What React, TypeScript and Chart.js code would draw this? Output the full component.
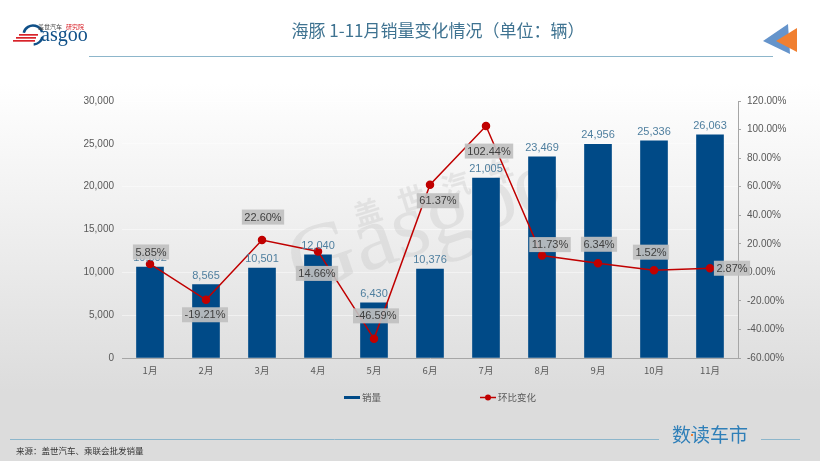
import { useEffect, useRef } from 'react';
import Chart from 'chart.js/auto';

const months = ['1月', '2月', '3月', '4月', '5月', '6月', '7月', '8月', '9月', '10月', '11月'];
const sales = [10602, 8565, 10501, 12040, 6430, 10376, 21005, 23469, 24956, 25336, 26063];
const momChange = [5.85, -19.21, 22.6, 14.66, -46.59, 61.37, 102.44, 11.73, 6.34, 1.52, 2.87];
// where each percent label sits relative to its point, picked by eye
const labelOffsets = [[1, -12], [-1, 15], [1, -23], [-1, 22], [2, -23], [8, 16], [3, 25], [8, -11], [1, -19], [-3, -18], [22, 0]];

const FONT = '"Liberation Sans", Arial, sans-serif';
const CJK = '"Noto Sans CJK SC", sans-serif';

const decorations = {
  id: 'decorations',
  beforeDatasetsDraw(chart: Chart) {
    // watermark behind the bars
    const ctx = chart.ctx;
    ctx.save();
    ctx.fillStyle = 'rgba(190,190,190,0.3)';
    ctx.textAlign = 'center';
    ctx.textBaseline = 'middle';
    ctx.translate(425, 226);
    ctx.rotate(-0.33);
    ctx.font = '92px "Liberation Serif", serif';
    ctx.fillText('Gasgoo', 0, 0);
    ctx.restore();
    ctx.save();
    ctx.fillStyle = 'rgba(190,190,190,0.3)';
    ctx.textAlign = 'center';
    ctx.textBaseline = 'middle';
    ctx.translate(442, 189);
    ctx.rotate(-0.3);
    ctx.font = 'bold 28px ' + CJK;
    (ctx as any).letterSpacing = '18px';
    ctx.fillText('盖世汽车', 0, 0);
    ctx.restore();
  },
  afterDatasetsDraw(chart: Chart) {
    const ctx = chart.ctx;
    ctx.save();
    ctx.textAlign = 'center';
    ctx.textBaseline = 'middle';

    // bar values
    ctx.font = '11px ' + FONT;
    ctx.fillStyle = '#4f7f9f';
    chart.getDatasetMeta(0).data.forEach((bar, i) => {
      ctx.fillText(sales[i].toLocaleString('en-US'), bar.x, bar.y - 9);
    });

    // percent labels on grey boxes
    chart.getDatasetMeta(1).data.forEach((pt, i) => {
      const text = momChange[i].toFixed(2) + '%';
      const [dx, dy] = labelOffsets[i];
      const w = ctx.measureText(text).width + 5;
      ctx.fillStyle = 'rgba(192,192,192,0.92)';
      ctx.fillRect(pt.x + dx - w / 2, pt.y + dy - 7.5, w, 15);
      ctx.fillStyle = '#404040';
      ctx.fillText(text, pt.x + dx, pt.y + dy + 0.5);
    });
    ctx.restore();
  },
  afterDraw(chart: Chart) {
    const ctx = chart.ctx;
    ctx.save();

    // title
    ctx.fillStyle = '#3f7391';
    ctx.textAlign = 'center';
    ctx.textBaseline = 'middle';
    ctx.font = '17px ' + CJK;
    ctx.fillText('海豚 1-11月销量变化情况（单位：辆）', 438, 31);

    // rules
    ctx.strokeStyle = '#8db6cb';
    ctx.lineWidth = 1;
    ctx.beginPath();
    ctx.moveTo(89, 56.5);
    ctx.lineTo(773, 56.5);
    ctx.moveTo(10, 439.5);
    ctx.lineTo(659, 439.5);
    ctx.moveTo(761, 439.5);
    ctx.lineTo(800, 439.5);
    ctx.stroke();

    // corner arrows
    ctx.fillStyle = '#6594cb';
    ctx.beginPath();
    ctx.moveTo(763, 41);
    ctx.lineTo(788, 24);
    ctx.lineTo(790, 54);
    ctx.fill();
    ctx.fillStyle = '#f07f30';
    ctx.beginPath();
    ctx.moveTo(776, 41);
    ctx.lineTo(797, 28);
    ctx.lineTo(797, 52);
    ctx.fill();

    // logo
    ctx.textAlign = 'left';
    ctx.fillStyle = '#0f5088';
    ctx.font = '20px "Liberation Serif", serif';
    ctx.fillText('asgoo', 41, 36);
    ctx.strokeStyle = '#0f5088';
    ctx.lineWidth = 2.5;
    ctx.beginPath();
    ctx.arc(33, 35, 9.5, -2.9, -0.3);
    ctx.stroke();
    ctx.beginPath();
    ctx.arc(33, 35, 9.5, 0.2, 1.5);
    ctx.stroke();
    ctx.fillStyle = '#d8232a';
    [[19, 34, 19], [16, 37, 20], [13, 40, 22]].forEach(([x, y, w]) => ctx.fillRect(x, y, w, 1.7));
    ctx.fillStyle = '#444';
    ctx.font = '6px ' + CJK;
    ctx.fillText('盖世汽车', 38, 27);
    ctx.fillStyle = '#d8232a';
    ctx.fillText('研究院', 66, 27);

    // legend
    ctx.fillStyle = '#004a87';
    ctx.fillRect(344, 396, 16, 3);
    ctx.strokeStyle = '#c00000';
    ctx.lineWidth = 1.5;
    ctx.beginPath();
    ctx.moveTo(480, 397.5);
    ctx.lineTo(496, 397.5);
    ctx.stroke();
    ctx.fillStyle = '#c00000';
    ctx.beginPath();
    ctx.arc(488, 397.5, 3, 0, Math.PI * 2);
    ctx.fill();
    ctx.fillStyle = '#595959';
    ctx.font = '9.5px ' + CJK;
    ctx.fillText('销量', 362, 397);
    ctx.fillText('环比变化', 498, 397);

    // footer
    ctx.fillStyle = '#2f7fb8';
    ctx.font = '19px ' + CJK;
    ctx.fillText('数读车市', 672, 435);
    ctx.fillStyle = '#f07f30';
    ctx.fillRect(691, 434, 2, 2);
    ctx.fillStyle = '#333';
    ctx.font = '8.5px ' + CJK;
    ctx.fillText('来源：盖世汽车、乘联会批发销量', 16, 451);
    ctx.restore();
  },
};

export default function App() {
  const canvasRef = useRef<HTMLCanvasElement | null>(null);

  useEffect(() => {
    document.body.style.margin = '0';
    if (!canvasRef.current) return;

    const chart = new Chart(canvasRef.current, {
      type: 'bar',
      data: {
        labels: months,
        datasets: [
          {
            type: 'bar',
            label: '销量',
            data: sales,
            yAxisID: 'y',
            backgroundColor: '#004a87',
            barThickness: 27,
            order: 1,
          },
          {
            type: 'line',
            label: '环比变化',
            data: momChange,
            yAxisID: 'y1',
            borderColor: '#c00000',
            borderWidth: 1.5,
            backgroundColor: '#c00000',
            pointBackgroundColor: '#c00000',
            pointRadius: 3.5,
            tension: 0,
            order: 0,
          },
        ],
      },
      options: {
        responsive: false,
        animation: false,
        devicePixelRatio: 1,
        layout: { padding: { top: 101, left: 0, right: 0, bottom: 0 } },
        plugins: {
          legend: { display: false },
          tooltip: { enabled: false },
        },
        scales: {
          x: {
            afterFit: (axis: any) => { axis.height = 103; },
            grid: { display: false, drawTicks: false },
            border: { color: '#a6a6a6' },
            ticks: { color: '#595959', font: { family: CJK, size: 9.5 }, padding: 7, maxRotation: 0 },
          },
          y: {
            min: 0,
            max: 30000,
            afterFit: (axis: any) => { axis.width = 122; },
            grid: { color: 'rgba(255,255,255,0.45)', drawTicks: false },
            border: { display: false },
            ticks: {
              stepSize: 5000,
              padding: 8,
              color: '#595959',
              font: { family: FONT, size: 10 },
              callback: (v: any) => Number(v).toLocaleString('en-US'),
            },
          },
          y1: {
            position: 'right',
            min: -60,
            max: 120,
            afterFit: (axis: any) => { axis.width = 82; },
            grid: { drawOnChartArea: false, color: '#a6a6a6', tickLength: 3 },
            border: { color: '#a6a6a6' },
            ticks: {
              stepSize: 20,
              padding: 6,
              color: '#595959',
              font: { family: FONT, size: 10 },
              callback: (v: any) => Number(v).toFixed(2) + '%',
            },
          },
        },
      },
      plugins: [decorations],
    });

    return () => chart.destroy();
  }, []);

  return (
    <canvas
      ref={canvasRef}
      width={820}
      height={461}
      style={{ display: 'block', background: 'linear-gradient(#ffffff 18%, #dcdcdc 85%)' }}
    />
  );
}
